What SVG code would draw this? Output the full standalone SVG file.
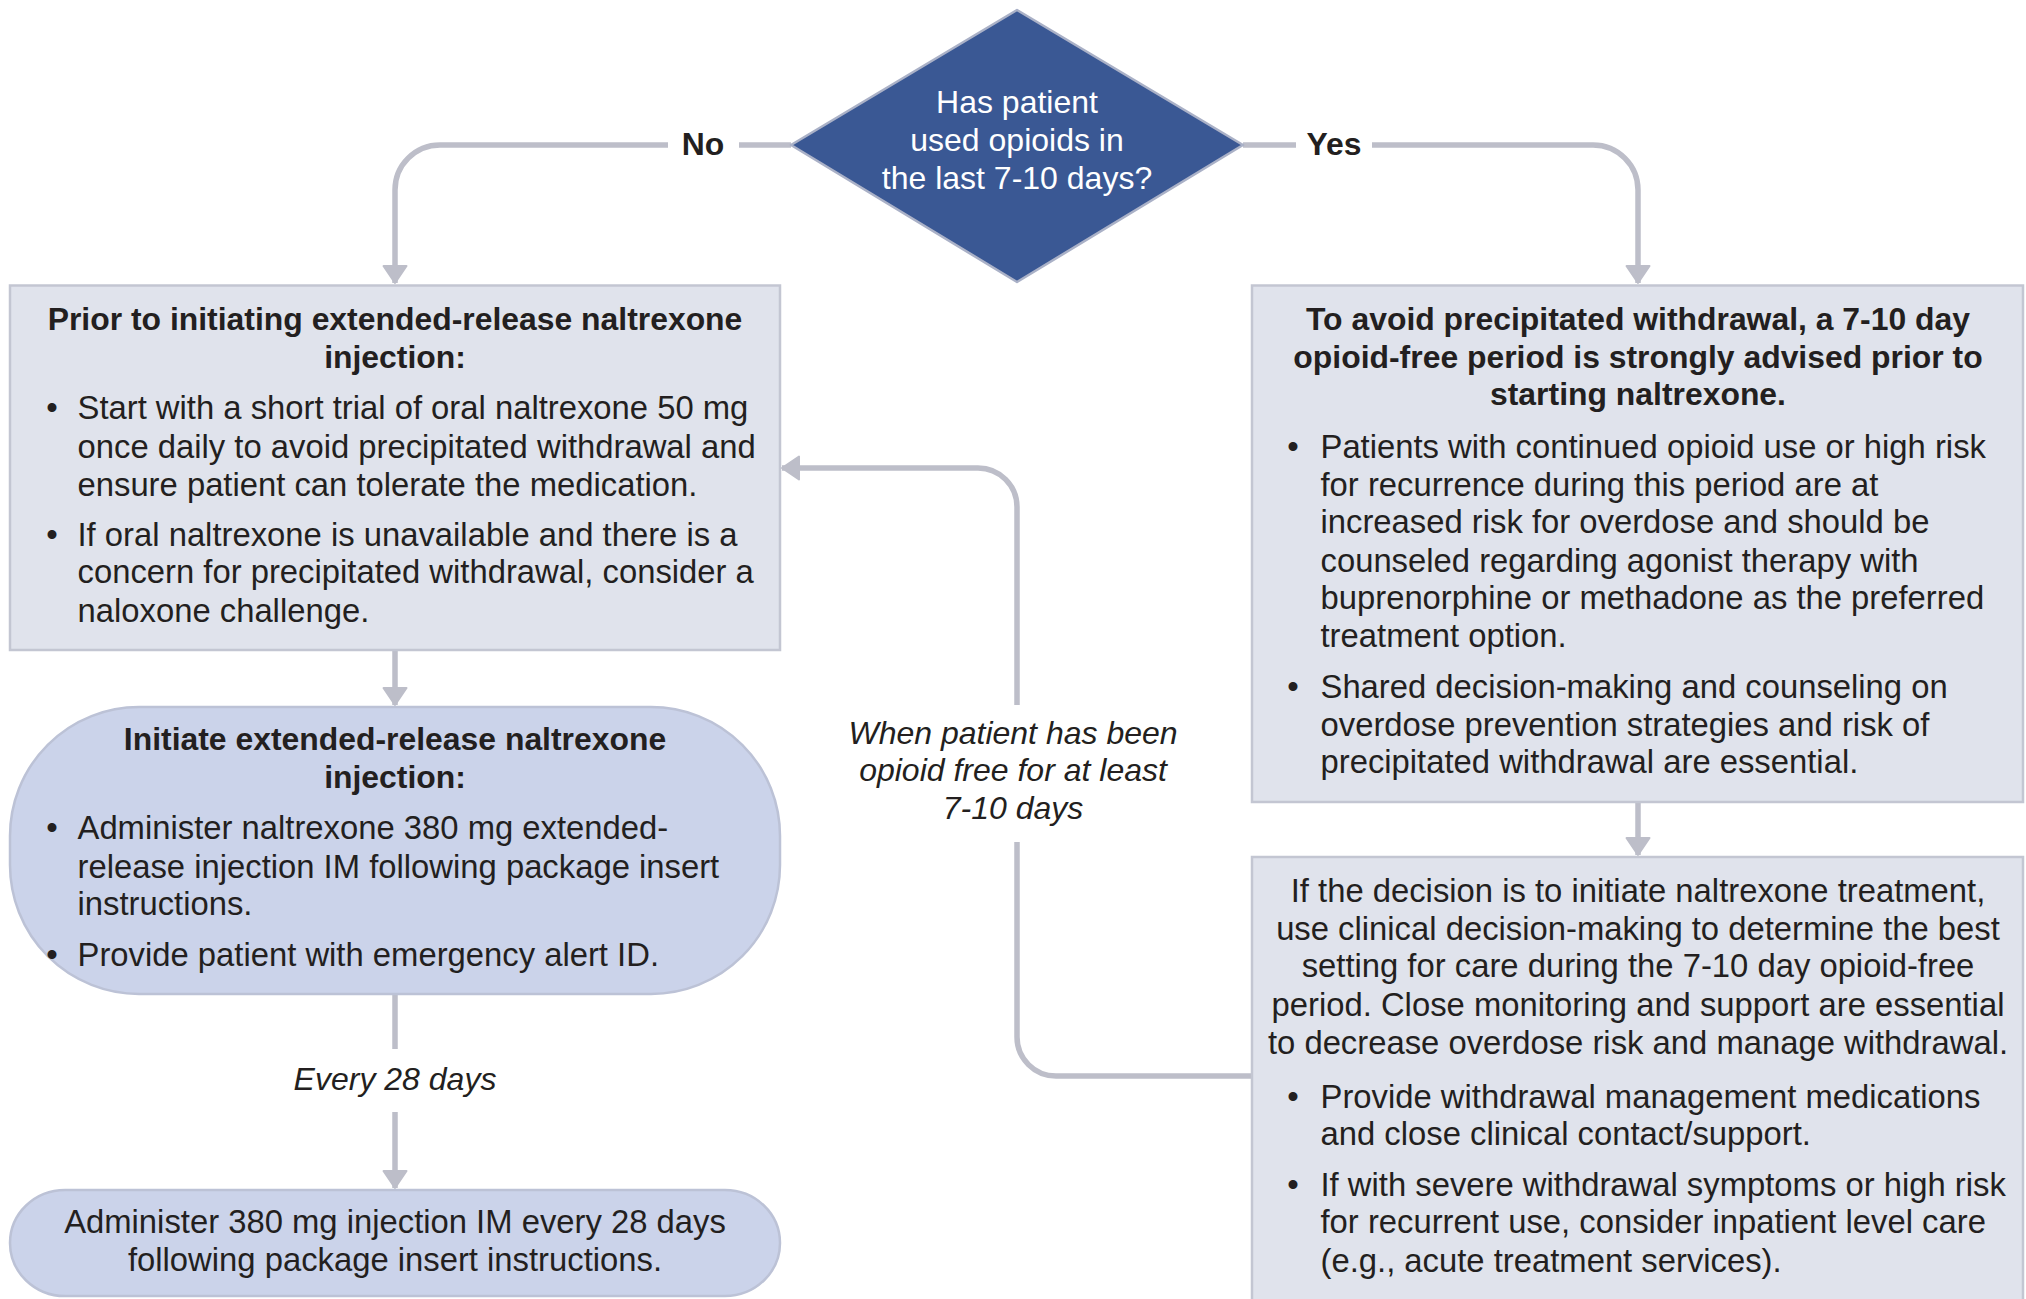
<svg xmlns="http://www.w3.org/2000/svg" width="2026" height="1299" viewBox="0 0 2026 1299">
<defs>
<style>
.t{font-family:"Liberation Sans",Arial,sans-serif;font-size:32.8px;fill:#231f20}
.d{font-size:32px}
.b{font-weight:bold;font-size:31.9px}
.c{text-anchor:middle}
.i{font-style:italic;font-size:32px}
.w{fill:#ffffff}
.box{fill:#e0e3ec;stroke:#c3c6d2;stroke-width:2.5}
.rbox{fill:#cbd3ea;stroke:#bcc2d6;stroke-width:2.5}
.ln{fill:none;stroke:#bdbec9;stroke-width:5.5}
</style>
<marker id="ah" markerUnits="userSpaceOnUse" markerWidth="26" markerHeight="26" viewBox="0 0 26 26" refX="18" refY="13" orient="auto">
<path d="M1,1.5 L18,13 L1,24.5 Z" fill="#bdbec9" stroke="#bdbec9" stroke-width="2" stroke-linejoin="round"/>
</marker>
</defs>
<rect width="2026" height="1299" fill="#ffffff"/>

<g id="connectors">
<path class="ln" d="M791 145 H739"/>
<path class="ln" d="M668 145 H440 A45 45 0 0 0 395 190 V283" marker-end="url(#ah)"/>
<path class="ln" d="M1243 145 H1296"/>
<path class="ln" d="M1372 145 H1593 A45 45 0 0 1 1638 190 V283" marker-end="url(#ah)"/>
<path class="ln" d="M395 650 V705" marker-end="url(#ah)"/>
<path class="ln" d="M395 994 V1049"/>
<path class="ln" d="M395 1112 V1188" marker-end="url(#ah)"/>
<path class="ln" d="M1638 802 V855" marker-end="url(#ah)"/>
<path class="ln" d="M1252 1076 H1056 A39 39 0 0 1 1017 1037 V842"/>
<path class="ln" d="M1017 705 V507 A39 39 0 0 0 978 468 H782" marker-end="url(#ah)"/>
<text class="t b c" x="703" y="155">No</text>
<text class="t b c" x="1334" y="155">Yes</text>
<text class="t i c" x="395" y="1090">Every 28 days</text>
<text class="t i c" x="1013" y="744">When patient has been</text>
<text class="t i c" x="1013" y="781">opioid free for at least</text>
<text class="t i c" x="1013" y="819">7-10 days</text>
</g>

<g id="decision">
<path d="M1017 10 L1243 145 L1017 282 L791 145 Z" fill="#3a5894" stroke="#aab1c7" stroke-width="2.5" stroke-linejoin="round"/>
<text class="t d c w" x="1017" y="113">Has patient</text>
<text class="t d c w" x="1017" y="151">used opioids in</text>
<text class="t d c w" x="1017" y="189">the last 7-10 days?</text>
</g>

<g id="prior">
<rect class="box" x="10" y="285.5" width="770" height="364.5"/>
<text class="t b c" x="395" y="330">Prior to initiating extended-release naltrexone</text>
<text class="t b c" x="395" y="368">injection:</text>
<text class="t c" x="52" y="419">•</text>
<text class="t" x="77.5" y="419">Start with a short trial of oral naltrexone 50 mg</text>
<text class="t" x="77.5" y="458">once daily to avoid precipitated withdrawal and</text>
<text class="t" x="77.5" y="496">ensure patient can tolerate the medication.</text>
<text class="t c" x="52" y="546">•</text>
<text class="t" x="77.5" y="546">If oral naltrexone is unavailable and there is a</text>
<text class="t" x="77.5" y="583">concern for precipitated withdrawal, consider a</text>
<text class="t" x="77.5" y="622">naloxone challenge.</text>
</g>

<g id="initiate">
<rect class="rbox" x="10" y="707" width="770" height="287" rx="129" ry="129"/>
<text class="t b c" x="395" y="750">Initiate extended-release naltrexone</text>
<text class="t b c" x="395" y="788">injection:</text>
<text class="t c" x="52" y="839">•</text>
<text class="t" x="77.5" y="839">Administer naltrexone 380 mg extended-</text>
<text class="t" x="77.5" y="878">release injection IM following package insert</text>
<text class="t" x="77.5" y="915">instructions.</text>
<text class="t c" x="52" y="966">•</text>
<text class="t" x="77.5" y="966">Provide patient with emergency alert ID.</text>
</g>

<g id="maintain">
<rect class="rbox" x="10" y="1190" width="770" height="106" rx="55" ry="55"/>
<text class="t c" x="395" y="1233">Administer 380 mg injection IM every 28 days</text>
<text class="t c" x="395" y="1271">following package insert instructions.</text>
</g>

<g id="avoid">
<rect class="box" x="1252" y="285.5" width="771" height="516.5"/>
<text class="t b c" x="1638" y="330">To avoid precipitated withdrawal, a 7-10 day</text>
<text class="t b c" x="1638" y="368">opioid-free period is strongly advised prior to</text>
<text class="t b c" x="1638" y="405">starting naltrexone.</text>
<text class="t c" x="1293" y="458">•</text>
<text class="t" x="1320.5" y="458">Patients with continued opioid use or high risk</text>
<text class="t" x="1320.5" y="496">for recurrence during this period are at</text>
<text class="t" x="1320.5" y="533">increased risk for overdose and should be</text>
<text class="t" x="1320.5" y="572">counseled regarding agonist therapy with</text>
<text class="t" x="1320.5" y="609">buprenorphine or methadone as the preferred</text>
<text class="t" x="1320.5" y="647">treatment option.</text>
<text class="t c" x="1293" y="698">•</text>
<text class="t" x="1320.5" y="698">Shared decision-making and counseling on</text>
<text class="t" x="1320.5" y="736">overdose prevention strategies and risk of</text>
<text class="t" x="1320.5" y="773">precipitated withdrawal are essential.</text>
</g>

<g id="setting">
<rect class="box" x="1252" y="857" width="771" height="460"/>
<text class="t c" x="1638" y="902">If the decision is to initiate naltrexone treatment,</text>
<text class="t c" x="1638" y="940">use clinical decision-making to determine the best</text>
<text class="t c" x="1638" y="977">setting for care during the 7-10 day opioid-free</text>
<text class="t c" x="1638" y="1016">period. Close monitoring and support are essential</text>
<text class="t c" x="1638" y="1054">to decrease overdose risk and manage withdrawal.</text>
<text class="t c" x="1293" y="1108">•</text>
<text class="t" x="1320.5" y="1108">Provide withdrawal management medications</text>
<text class="t" x="1320.5" y="1145">and close clinical contact/support.</text>
<text class="t c" x="1293" y="1196">•</text>
<text class="t" x="1320.5" y="1196">If with severe withdrawal symptoms or high risk</text>
<text class="t" x="1320.5" y="1233">for recurrent use, consider inpatient level care</text>
<text class="t" x="1320.5" y="1272">(e.g., acute treatment services).</text>
</g>
</svg>
